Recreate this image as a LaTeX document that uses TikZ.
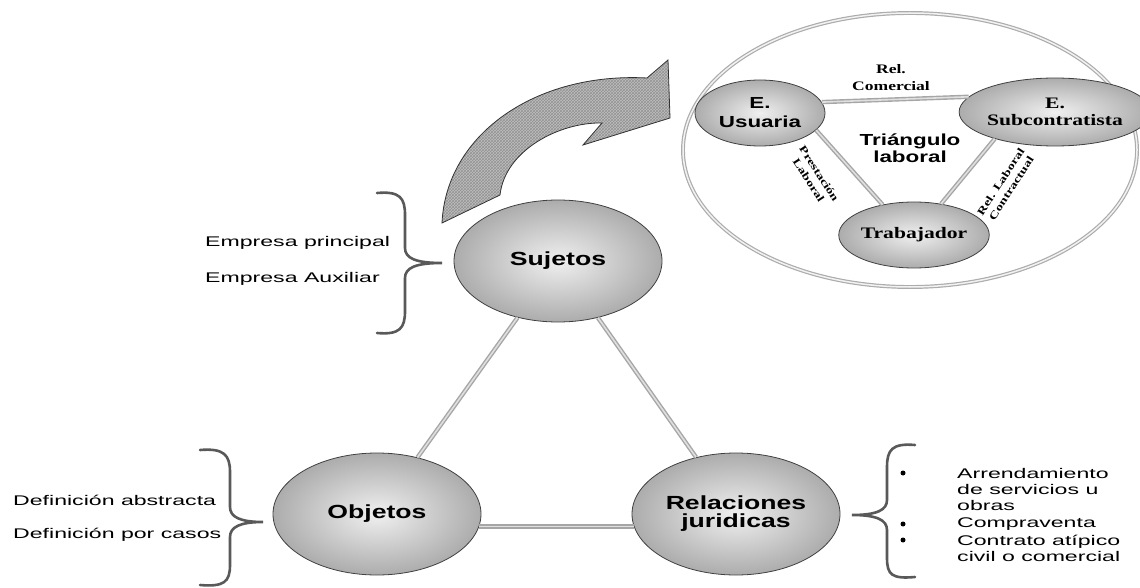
\documentclass[tikz,border=0pt]{standalone}
\usepackage{fontspec}
\setmainfont{Liberation Sans}
\newfontfamily\labfont[FakeStretch=1.65]{Liberation Sans}
\newfontfamily\nodefont[FakeStretch=1.4]{Liberation Sans}
\newfontfamily\serfont[FakeStretch=1.35]{Liberation Serif}
\usetikzlibrary{shapes.geometric,patterns,calc}

\tikzset{
  bola/.style={ellipse, draw=gray!50!black, line width=0.8pt, inner sep=0pt,
    shading=radial, inner color=gray!12, outer color=gray!65,
    minimum width=208pt, minimum height=122pt, align=center,
    font=\nodefont\bfseries\fontsize{19}{18}\selectfont},
  bolita/.style={bola, minimum width=132pt, minimum height=66pt,
    font=\serfont\bfseries\fontsize{16}{17}\selectfont},
  enlace/.style={draw=gray!70, line width=1.4pt, double=gray!25, double distance=1.6pt},
  llave/.style={draw=black!65, line width=2.6pt, line cap=round},
  texto/.style={font=\labfont\fontsize{14}{16}\selectfont, anchor=west, inner sep=0pt, align=left},
  punto/.style={circle, fill=black, inner sep=0pt, minimum size=5pt},
  rotulo/.style={font=\serfont\bfseries\fontsize{10.5}{12.5}\selectfont, align=center, inner sep=0pt},
}

\begin{document}
\begin{tikzpicture}[x=1pt,y=-1pt]
 \useasboundingbox (0,0) rectangle (1140,588);

 % curved arrow
 \draw[draw=gray!40!black, line width=0.8pt, preaction={fill=gray!50},
   pattern=crosshatch, pattern color=gray!85]
   (442,223) .. controls (446,135) and (535,72) .. (647,78) -- (668,60) -- (670,118)
   -- (583,145) -- (602,123) .. controls (560,122) and (505,150) .. (500,195) -- cycle;

 % main triangle
 \node[bola] (sujetos) at (558,261) {Sujetos};
 \node[bola] (objetos) at (377,514) {Objetos};
 \node[bola] (relaciones) at (736,514) {Relaciones\\juridicas};
 \draw[enlace] (sujetos) -- (objetos);
 \draw[enlace] (sujetos) -- (relaciones);
 \draw[enlace] (objetos.-7) -- (relaciones.187);

 % detail: triangulo laboral
 \node[ellipse, draw=gray!65, line width=1.2pt, double=gray!10, double distance=1.5pt,
   minimum width=454pt, minimum height=274pt] (detalle) at (910,150) {};
 \node[bolita, minimum width=130pt, font=\nodefont\bfseries\fontsize{16}{19}\selectfont]
   (usuaria) at (760,113) {E.\\Usuaria};
 \node[bolita, minimum width=136pt, minimum height=68pt] (subcon) at (1055,112) {E.\\Subcontratista};
 \node[bolita] (trabajador) at (914,235) {Trabajador};
 \draw[enlace] (usuaria.10) -- (subcon.170);
 \draw[enlace] (usuaria.-17) -- (trabajador.136);
 \draw[enlace] (subcon.204) -- (trabajador.49);
 \node[font=\serfont\bfseries\fontsize{13}{17}\selectfont, align=center] (comercial) at (891,78) {Rel.\\Comercial};
 \node[font=\nodefont\bfseries\fontsize{16}{17}\selectfont, align=center] (triangulo) at (910,148) {Triángulo\\laboral};
 \node[rotulo, rotate=-57] (prestacion) at (814,177) {Prestación\\Laboral};
 \node[rotulo, rotate=57] (contractual) at (1006,185) {Rel. Laboral\\Contractual};

 % braces
 \draw[llave] (377,193) .. controls (400,191) and (405,198) .. (405,215) -- (405,248)
   .. controls (405,258) and (415,263) .. (442,263) .. controls (415,263) and (405,268) .. (405,278)
   -- (405,311) .. controls (405,328) and (400,335) .. (377,333);
 \draw[llave] (200,450) .. controls (224,448) and (230,455) .. (230,472) -- (230,507)
   .. controls (230,517) and (240,522) .. (263,522) .. controls (240,522) and (230,527) .. (230,537)
   -- (230,565) .. controls (230,582) and (224,587) .. (200,585);
 \draw[llave] (915,445) .. controls (892,443) and (887,450) .. (887,467) -- (887,500)
   .. controls (887,510) and (877,515) .. (852,515) .. controls (877,515) and (887,520) .. (887,530)
   -- (887,558) .. controls (887,575) and (892,579) .. (915,577);

 % side texts
 \node[texto] (principal) at (205,243) {Empresa principal};
 \node[texto] (auxiliar) at (205,279) {Empresa Auxiliar};
 \node[texto] (abstracta) at (13,500) {Definición abstracta};
 \node[texto] (casos) at (13,535) {Definición por casos};
 \node[texto] (arrend) at (957,489) {Arrendamiento\\de servicios u\\obras};
 \node[texto] (compra) at (957,524) {Compraventa};
 \node[texto] (atipico) at (957,548) {Contrato atípico\\civil o comercial};
 \node[punto] (p1) at (903,473) {};
 \node[punto] (p2) at (903,524) {};
 \node[punto] (p3) at (903,540) {};
\end{tikzpicture}
\end{document}
